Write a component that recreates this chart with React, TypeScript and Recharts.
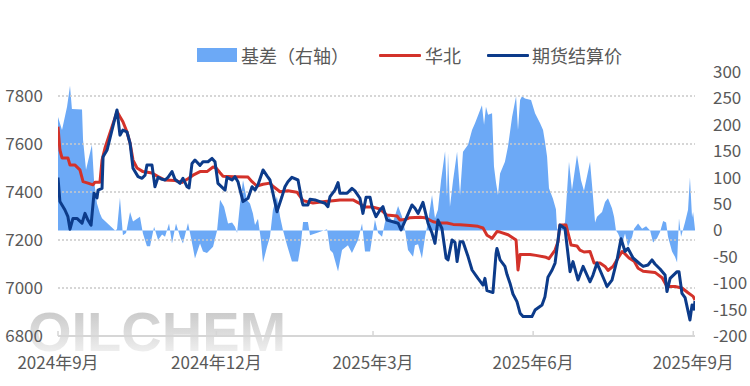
import React from 'react';
import { ComposedChart, Area, Line, XAxis, YAxis, ReferenceLine } from 'recharts';

// x axis: days since 2024-09-01
const monthTicks = [0, 91, 181, 273, 365];
const monthLabels = ['2024年9月', '2024年12月', '2025年3月', '2025年6月', '2025年9月'];
const leftTicks = [6800, 7000, 7200, 7400, 7600, 7800];
const rightTicks = [-200, -150, -100, -50, 0, 50, 100, 150, 200, 250, 300];

const seriesNames = ['基差（右轴）', '华北', '期货结算价'];

// 基差（右轴）
const basisDays = [0, 2.3, 5.2, 6.9, 8.0, 13.8, 14.4, 16.1, 19.5, 20.7, 22.4, 24.1, 25.3, 32.8, 33.9, 35.6, 37.3, 39.1, 41.4, 43.1, 47.1, 48.8, 51.1, 52.9, 55.2, 57.5, 59.8, 61.5, 63.8, 65.5, 67.8, 70.1, 71.8, 74.7, 77.6, 78.7, 81.6, 83.3, 85.6, 89.1, 91.4, 93.1, 95.4, 97.7, 100.0, 101.7, 102.9, 104.6, 106.3, 108.6, 110.3, 112.0, 113.2, 114.9, 116.6, 117.8, 120.1, 121.8, 123.5, 125.8, 127.6, 129.3, 131.6, 134.4, 137.9, 139.6, 140.8, 143.6, 144.8, 149.4, 154.6, 156.3, 158.0, 160.9, 163.2, 166.6, 168.9, 172.4, 174.7, 176.4, 179.3, 182.1, 183.9, 186.2, 187.9, 189.6, 192.5, 195.4, 197.7, 199.4, 201.1, 204.0, 205.1, 206.9, 209.1, 210.9, 212.6, 214.9, 216.6, 218.3, 220.1, 222.4, 223.5, 224.1, 225.2, 227.0, 229.3, 231.0, 232.7, 235.6, 237.9, 239.6, 243.6, 244.8, 245.9, 247.1, 249.4, 250.5, 251.7, 252.8, 254.0, 256.8, 258.6, 260.9, 263.2, 264.3, 265.5, 266.6, 268.3, 271.8, 274.1, 277.0, 278.7, 279.8, 281.0, 282.1, 284.4, 286.1, 286.7, 287.3, 291.3, 293.6, 295.3, 298.2, 300.5, 302.2, 305.7, 307.4, 308.6, 309.7, 312.6, 314.3, 316.0, 318.3, 319.5, 320.6, 321.8, 324.1, 325.8, 327.5, 329.9, 331.0, 333.3, 335.6, 337.9, 340.2, 341.9, 344.2, 345.9, 347.7, 349.4, 350.5, 352.8, 354.5, 355.7, 356.8, 358.0, 360.3, 362.0, 363.1, 364.3, 364.9, 366.0];
const basisValues = [215, 190, 234, 274, 230, 229, 171, 115, 162, 95, 51, 32, 23, 0, 2, 62, -9, -5, 35, 17, 26, -6, -30, -30, 7, -18, -8, -12, 13, -25, 13, -12, -25, 14, -34, -53, -25, -40, -43, -31, 0, 58, 45, 13, 15, 7, -5, 51, 95, 57, 51, 32, 10, 22, -18, -61, -31, -12, 39, 64, 26, 0, -28, -59, -59, -25, 16, 16, -9, -4, 2, -37, -43, -78, -37, -28, -43, -18, 13, -40, -40, 20, -5, -12, 16, 29, 16, 46, 26, 0, -37, -50, -28, -26, -53, -12, 16, 67, 23, 39, 95, 150, 64, 146, 45, 95, 149, 67, 149, 162, 190, 203, 237, 200, 234, 219, 222, 121, 90, 67, 108, 130, 160, 215, 254, 190, 247, 254, 250, 247, 222, 203, 190, 168, 140, 80, 60, 40, 5, 0, 15, 130, 76, 143, 95, 75, 130, 64, 15, 26, 35, 54, 61, 42, 26, 0, -6, -25, -6, -31, -12, 3, 13, 3, 8, 0, -23, -15, -3, 18, 15, -12, -40, -50, -61, 23, -12, 16, 39, 100, 25, 35, 2];

// 华北
const northDays = [0, 1.1, 2.3, 5.7, 6.9, 9.8, 12.6, 14.4, 17.2, 20.1, 21.3, 24.1, 25.3, 27.0, 33.9, 35.6, 37.3, 39.6, 41.4, 43.1, 45.4, 48.8, 54.0, 57.5, 61.5, 67.2, 71.2, 74.7, 77.6, 81.6, 85.6, 89.1, 90.8, 93.1, 94.8, 100.6, 109.2, 111.5, 114.3, 117.8, 121.8, 123.5, 127.6, 132.1, 137.3, 140.8, 146.5, 153.4, 158.0, 162.0, 169.5, 172.4, 176.4, 181.0, 185.0, 189.0, 194.8, 196.5, 199.4, 202.3, 208.0, 210.9, 215.5, 219.5, 223.5, 227.0, 231.0, 236.7, 241.3, 244.2, 246.5, 249.4, 252.2, 254.0, 258.6, 263.2, 264.3, 265.5, 271.2, 274.6, 280.4, 282.1, 285.6, 287.3, 288.4, 291.9, 294.8, 298.2, 299.9, 302.2, 305.7, 308.0, 311.4, 314.3, 316.0, 318.9, 321.8, 324.1, 325.8, 328.1, 331.0, 333.3, 336.2, 343.0, 347.1, 349.9, 354.5, 358.5, 362.0, 364.9, 366.0];
const northValues = [7672, 7575, 7542, 7542, 7512, 7512, 7492, 7443, 7437, 7430, 7441, 7441, 7533, 7583, 7735, 7714, 7693, 7651, 7604, 7533, 7500, 7485, 7479, 7464, 7450, 7448, 7440, 7455, 7470, 7485, 7485, 7504, 7500, 7480, 7466, 7464, 7462, 7443, 7425, 7432, 7437, 7424, 7401, 7405, 7399, 7364, 7354, 7360, 7364, 7367, 7367, 7356, 7337, 7337, 7329, 7304, 7300, 7283, 7285, 7293, 7295, 7293, 7276, 7271, 7271, 7265, 7264, 7260, 7257, 7250, 7220, 7207, 7235, 7233, 7222, 7200, 7075, 7140, 7140, 7136, 7128, 7122, 7158, 7193, 7262, 7262, 7179, 7175, 7158, 7150, 7152, 7104, 7104, 7090, 7073, 7090, 7125, 7152, 7142, 7125, 7112, 7082, 7070, 7065, 7043, 7006, 7006, 7000, 6980, 6965, 6950];

// 期货结算价
const futuresDays = [0, 1.1, 4.0, 5.7, 6.9, 8.6, 10.9, 13.8, 15.5, 17.2, 19.0, 20.7, 22.4, 23.0, 25.3, 25.9, 28.2, 33.9, 35.6, 37.3, 39.6, 41.4, 43.1, 46.0, 48.3, 50.0, 51.1, 54.0, 55.7, 57.5, 59.8, 61.5, 63.2, 65.5, 67.2, 70.1, 71.8, 74.1, 75.3, 77.0, 78.7, 81.6, 83.3, 86.2, 88.5, 90.2, 91.9, 96.0, 97.1, 100.0, 101.7, 103.4, 106.3, 109.2, 111.5, 113.2, 114.9, 117.8, 120.1, 121.8, 123.5, 125.8, 128.7, 130.4, 132.1, 134.4, 137.9, 140.2, 140.8, 143.6, 144.8, 147.7, 150.5, 153.4, 155.1, 156.3, 159.1, 160.9, 162.0, 166.1, 168.9, 170.6, 173.5, 175.2, 177.0, 179.3, 180.4, 182.7, 185.0, 186.7, 189.0, 192.5, 195.4, 197.1, 200.5, 203.4, 205.1, 206.9, 209.7, 212.6, 214.9, 216.6, 218.3, 220.6, 223.0, 224.1, 226.4, 228.1, 229.3, 231.0, 232.7, 235.6, 237.9, 241.3, 244.2, 245.3, 246.5, 249.9, 251.7, 252.2, 252.8, 254.0, 256.8, 258.0, 259.7, 261.4, 263.7, 265.5, 267.2, 272.3, 274.1, 278.1, 279.8, 281.5, 283.9, 285.6, 288.4, 291.3, 294.2, 295.9, 298.8, 301.7, 305.7, 307.4, 309.7, 311.4, 314.3, 315.4, 318.3, 321.2, 323.5, 325.8, 327.5, 330.4, 334.4, 336.2, 339.0, 341.3, 343.0, 345.9, 348.8, 349.9, 351.7, 355.7, 356.8, 358.5, 360.3, 363.1, 364.3, 365.4, 366.0];
const futuresValues = [7460, 7360, 7325, 7297, 7245, 7290, 7290, 7270, 7311, 7283, 7262, 7395, 7375, 7408, 7415, 7547, 7575, 7742, 7637, 7658, 7651, 7604, 7499, 7464, 7457, 7470, 7512, 7512, 7422, 7461, 7453, 7450, 7461, 7485, 7453, 7436, 7457, 7422, 7417, 7519, 7533, 7511, 7526, 7526, 7540, 7526, 7436, 7408, 7461, 7450, 7464, 7443, 7360, 7374, 7422, 7408, 7430, 7492, 7467, 7450, 7395, 7318, 7381, 7422, 7443, 7461, 7450, 7360, 7346, 7346, 7370, 7367, 7360, 7353, 7339, 7381, 7408, 7439, 7395, 7395, 7415, 7405, 7374, 7311, 7378, 7378, 7339, 7297, 7325, 7339, 7283, 7276, 7270, 7242, 7297, 7346, 7332, 7311, 7357, 7270, 7229, 7186, 7283, 7248, 7124, 7117, 7200, 7190, 7110, 7193, 7193, 7131, 7075, 7040, 7012, 7040, 6989, 6981, 7144, 7165, 7150, 7117, 7090, 7056, 7020, 6975, 6943, 6895, 6881, 6881, 6908, 6929, 6964, 7045, 7075, 7104, 7262, 7248, 7068, 7110, 7033, 7090, 7026, 7054, 7104, 7075, 7026, 7006, 7033, 7117, 7205, 7152, 7165, 7125, 7100, 7090, 7096, 7117, 7100, 7079, 7054, 6985, 7040, 7068, 7068, 6978, 6960, 6867, 6929, 6912, 6946];

const basisColor = '#6CA9F6';
const northColor = '#D3322A';
const futuresColor = '#0C3B8A';
const textColor = '#595959';

type Row = { day: number; basis?: number; north?: number; futures?: number };

function buildRows(): Row[] {
  const map = new Map<number, Row>();
  const put = (days: number[], vals: number[], key: 'basis' | 'north' | 'futures') => {
    days.forEach((d, i) => {
      const r = map.get(d) ?? { day: d };
      r[key] = vals[i];
      map.set(d, r);
    });
  };
  put(basisDays, basisValues, 'basis');
  put(northDays, northValues, 'north');
  put(futuresDays, futuresValues, 'futures');
  return Array.from(map.values()).sort((a, b) => a.day - b.day);
}

const rows = buildRows();
const gridValues = leftTicks.filter((t) => t > leftTicks[0]);

const fontFamily = '"Noto Sans CJK SC", "Noto Sans", sans-serif';

function Legend() {
  const txt: React.CSSProperties = {
    position: 'absolute',
    top: 43,
    fontSize: 18,
    lineHeight: '24px',
    color: textColor,
    whiteSpace: 'nowrap',
  };
  return (
    <>
      <div style={{ position: 'absolute', left: 197, top: 48, width: 40, height: 14, background: basisColor }} />
      <div style={{ ...txt, left: 241 }}>{seriesNames[0]}</div>
      <div style={{ position: 'absolute', left: 379, top: 54, width: 42, height: 3, background: northColor, borderRadius: 1 }} />
      <div style={{ ...txt, left: 425 }}>{seriesNames[1]}</div>
      <div style={{ position: 'absolute', left: 487, top: 54, width: 42, height: 3, background: futuresColor, borderRadius: 1 }} />
      <div style={{ ...txt, left: 532 }}>{seriesNames[2]}</div>
    </>
  );
}

export default function App() {
  return (
    <div style={{ position: 'absolute', left: 0, top: 0, width: 750, height: 386, background: '#fff', fontFamily, overflow: 'hidden' }}>
      <div
        style={{
          position: 'absolute',
          left: 28,
          top: 304,
          fontFamily: '"Liberation Sans", Arial, sans-serif',
          fontWeight: 700,
          fontSize: 56,
          lineHeight: '56px',
          letterSpacing: 0,
          backgroundImage: 'linear-gradient(to bottom, #c4c4c4 0%, #dedede 55%, #f6f6f6 100%)',
          WebkitBackgroundClip: 'text',
          backgroundClip: 'text',
          color: 'transparent',
          WebkitTextFillColor: 'transparent',
          userSelect: 'none',
        }}
      >
        OILCHEM
      </div>
      <Legend />
      <div style={{ position: 'absolute', left: 0, top: 0 }}>
        <ComposedChart width={750} height={386} data={rows} margin={{ top: 72, right: 0, bottom: 0, left: 0 }}>
          <XAxis
            dataKey="day"
            type="number"
            domain={[0, 366]}
            ticks={monthTicks}
            interval={0}
            allowDataOverflow
            tickFormatter={(v: number) => monthLabels[monthTicks.indexOf(v)] ?? ''}
            height={50}
            stroke="#d6d6d6"
            axisLine={{ stroke: '#d6d6d6', strokeWidth: 2 }}
            tickLine={{ stroke: '#d6d6d6', strokeWidth: 1.5 }}
            tickSize={-5}
            tickMargin={26}
            tick={{ fill: textColor, fontSize: 17 }}
          />
          <YAxis
            yAxisId="left"
            orientation="left"
            domain={[6800, 7900]}
            ticks={leftTicks}
            interval={0}
            allowDataOverflow
            width={58}
            axisLine={false}
            tickLine={false}
            tickMargin={9}
            tick={{ fill: textColor, fontSize: 17 }}
          />
          <YAxis
            yAxisId="right"
            orientation="right"
            domain={[-200, 300]}
            ticks={rightTicks}
            interval={0}
            allowDataOverflow
            width={55}
            axisLine={false}
            tickLine={false}
            tickMargin={12}
            tick={{ fill: textColor, fontSize: 17 }}
          />
          {gridValues.map((v) => (
            <ReferenceLine
              key={v}
              yAxisId="left"
              y={v}
              stroke="#c9c9c9"
              strokeDasharray="2 2"
              strokeWidth={1.5}
              ifOverflow="visible"
            />
          ))}
          <Area
            yAxisId="right"
            dataKey="basis"
            name={seriesNames[0]}
            type="linear"
            stroke="none"
            fill={basisColor}
            fillOpacity={1}
            connectNulls
            dot={false}
            activeDot={false}
            isAnimationActive={false}
          />
          <Line
            yAxisId="left"
            dataKey="north"
            name={seriesNames[1]}
            type="linear"
            stroke={northColor}
            strokeWidth={3}
            strokeLinejoin="round"
            connectNulls
            dot={false}
            activeDot={false}
            isAnimationActive={false}
          />
          <Line
            yAxisId="left"
            dataKey="futures"
            name={seriesNames[2]}
            type="linear"
            stroke={futuresColor}
            strokeWidth={3}
            strokeLinejoin="round"
            connectNulls
            dot={false}
            activeDot={false}
            isAnimationActive={false}
          />
        </ComposedChart>
      </div>
    </div>
  );
}
